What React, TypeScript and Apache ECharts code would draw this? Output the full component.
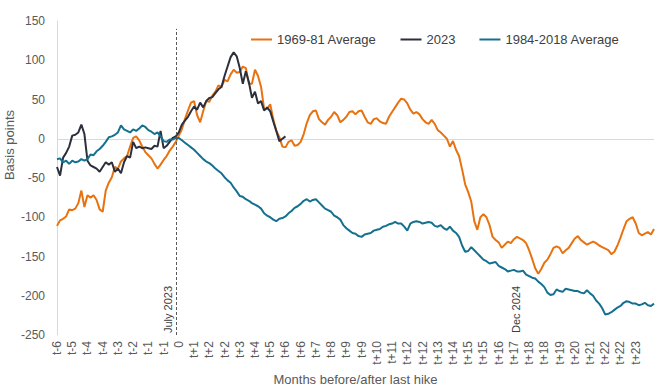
import React, { useEffect, useRef } from "react";
import * as echarts from "echarts";

// Basis points, one value per trading-day step (category index)
const avg1969to81 = [
  -111, -104, -102, -99, -90, -91, -89, -82, -66, -87,
  -72, -75, -72, -78, -90, -93, -66, -56, -49, -36,
  -38, -29, -25, -22, -10, 1, 3, -2, -10, -17,
  -21, -25, -32, -38, -33, -27, -22, -15, -10, -4,
  4, 12, 25, 36, 46, 48, 30, 21, 35, 48,
  47, 55, 60, 68, 66, 75, 73, 82, 88, 84,
  85, 92, 90, 70, 70, 88, 80, 66, 38, 38,
  44, 25, 10, 2, -10, -11, -4, -2, -9, -8,
  -4, 6, 20, 30, 35, 36, 25, 21, 18, 24,
  28, 34, 30, 21, 24, 28, 34, 35, 31, 35,
  36, 28, 21, 19, 25, 26, 22, 20, 19, 28,
  34, 40, 46, 51, 50, 45, 37, 32, 34, 31,
  25, 21, 19, 24, 19, 11, 8, 4, 0, -10,
  -3, -14, -22, -39, -58, -68, -80, -105, -116, -100,
  -96, -100, -110, -125, -129, -132, -139, -135, -131, -133,
  -128, -125, -127, -129, -133, -142, -153, -165, -172, -166,
  -158, -154, -147, -139, -137, -139, -146, -142, -139, -133,
  -127, -124, -129, -132, -135, -133, -131, -133, -136, -138,
  -140, -142, -147, -144, -136, -126, -115, -105, -102, -100,
  -108, -120, -123, -121, -119, -122, -115,
];

const y2023 = [
  -36, -47, -24, -18, -10, 4, 5, 8, 18, 6,
  -28, -34, -36, -38, -42, -36, -30, -33, -30, -42,
  -38, -44, -30, -22, -24, -4, -12, -10, -12, -11,
  -12, -13, -9, -10, 10, -12, -9, -4, 1, 3,
  8, 18, 23, 28, 35, 41, 37, 46, 40, 48,
  52, 53, 58, 63, 66, 80, 92, 104, 110, 105,
  90, 70, 86, 72, 52, 60, 45, 48, 36, 40,
  35, 22, 10, -3, 0, 3,
];

const avg1984to2018 = [
  -26, -25, -30, -28, -32, -28, -30, -29, -26, -28,
  -26, -20, -21, -16, -13, -9, -4, 2, 3, 5,
  8, 17, 12, 10, 8, 12, 10, 13, 17, 15,
  11, 9, 6, 8, 3, -3, -4, -1, -1, 1,
  1, -2, -5, -8, -11, -14, -18, -22, -26, -29,
  -31, -34, -38, -41, -44, -49, -53, -56, -62, -67,
  -73, -74, -77, -79, -82, -84, -86, -89, -95, -98,
  -100, -103, -105, -102, -101, -99, -95, -92, -88, -86,
  -83, -79, -77, -80, -78, -77, -81, -85, -89, -91,
  -93, -98, -100, -103, -110, -114, -117, -120, -121, -124,
  -125, -122, -121, -120, -117, -116, -115, -112, -111, -109,
  -108, -106, -108, -108, -112, -117, -108, -106, -105, -106,
  -108, -107, -106, -107, -111, -112, -110, -114, -116, -112,
  -117, -120, -125, -136, -144, -143, -138, -142, -146, -150,
  -154, -156, -159, -158, -157, -162, -164, -166, -169, -168,
  -167, -169, -169, -168, -173, -175, -177, -178, -182, -185,
  -189, -196, -199, -198, -192, -194, -195, -191, -192, -193,
  -194, -194, -196, -197, -193, -197, -200, -206, -210, -216,
  -224, -223, -221, -218, -215, -213, -209, -207, -208, -210,
  -210, -212, -211, -209, -212, -213, -210,
];

// Tick labels shown every 5th category
const tickLabels = [
  "t-6", "t-5", "t-4", "t-4", "t-3", "t-2", "t-1", "t-1", "0", "t+1",
  "t+2", "t+2", "t+3", "t+4", "t+5", "t+6", "t+6", "t+7", "t+8", "t+9",
  "t+9", "t+10", "t+11", "t+12", "t+12", "t+13", "t+14", "t+15", "t+15", "t+16",
  "t+17", "t+18", "t+18", "t+19", "t+20", "t+21", "t+22", "t+22", "t+23",
];
const LABEL_STEP = 5;

const seriesNames = ["1969-81 Average", "2023", "1984-2018 Average"];
const seriesColors = ["#E8720F", "#2C2F3C", "#14708F"];

const hikeIndex = 39; // July 2023
const decIndex = 153; // Dec 2024

const categories = avg1969to81.map((_, i) => String(i));

const FONT = "'Liberation Sans', Arial, Helvetica, sans-serif";

export default function App() {
  const ref = useRef<HTMLDivElement>(null);

  useEffect(() => {
    if (!ref.current) return;
    const chart = echarts.init(ref.current, undefined, { renderer: "svg" });
    const splitColors = [-250, -200, -150, -100, -50, 0, 50, 100, 150].map((v) =>
      v === 0 ? "#d9d9d9" : "rgba(0,0,0,0)"
    );
    chart.setOption({
      animation: false,
      textStyle: { fontFamily: FONT },
      grid: { left: 57, right: 6, top: 21, bottom: 54, containLabel: false },
      legend: {
        data: seriesNames,
        left: 246,
        top: 28,
        icon: "rect",
        itemWidth: 21,
        itemHeight: 2,
        itemGap: 24,
        textStyle: { fontSize: 13, color: "#404040", fontFamily: FONT },
      },
      xAxis: {
        type: "category",
        data: categories,
        boundaryGap: false,
        axisLine: { show: false },
        axisTick: { show: false },
        splitLine: { show: false },
        axisLabel: {
          rotate: 90,
          fontSize: 12,
          color: "#595959",
          margin: 6,
          fontFamily: FONT,
          interval: (i: number) => i % LABEL_STEP === 0 && i / LABEL_STEP < tickLabels.length,
          formatter: (_v: string, i: number) => tickLabels[Math.round(i / LABEL_STEP)] ?? "",
        },
        name: "Months before/after last hike",
        nameLocation: "middle",
        nameGap: 38,
        nameTextStyle: { fontSize: 13, color: "#595959", fontFamily: FONT },
      },
      yAxis: {
        type: "value",
        min: -250,
        max: 150,
        interval: 50,
        axisLine: { show: true, lineStyle: { color: "#d9d9d9", width: 1 } },
        axisTick: { show: false },
        axisLabel: { fontSize: 12, color: "#595959", margin: 12, fontFamily: FONT },
        splitLine: { show: true, lineStyle: { color: splitColors, width: 1 } },
      },
      graphic: [
        {
          type: "text",
          x: 9,
          y: 145,
          rotation: Math.PI / 2,
          style: {
            text: "Basis points",
            fontSize: 13,
            fill: "#595959",
            fontFamily: FONT,
            textAlign: "center",
            textVerticalAlign: "middle",
          },
        },
      ],
      series: [
        {
          name: seriesNames[0],
          type: "line",
          data: avg1969to81,
          showSymbol: false,
          symbol: "none",
          lineStyle: { width: 2, color: seriesColors[0] },
          itemStyle: { color: seriesColors[0] },
        },
        {
          name: seriesNames[1],
          type: "line",
          data: y2023,
          showSymbol: false,
          symbol: "none",
          lineStyle: { width: 2, color: seriesColors[1] },
          itemStyle: { color: seriesColors[1] },
          markLine: {
            silent: true,
            symbol: ["none", "none"],
            animation: false,
            lineStyle: { color: "#595959", type: [3, 2], width: 1 },
            label: {
              show: true,
              position: "insideStartTop",
              fontSize: 11,
              color: "#404040",
              fontFamily: FONT,
              distance: 2,
            },
            data: [
              [
                { coord: [hikeIndex, -250], label: { formatter: "July 2023" } },
                { coord: [hikeIndex, 140] },
              ],
              [
                {
                  coord: [decIndex, -250],
                  label: { formatter: "Dec 2024", color: "#404040" },
                  lineStyle: { color: "rgba(0,0,0,0)", width: 1 },
                },
                { coord: [decIndex, -180] },
              ],
            ],
          },
        },
        {
          name: seriesNames[2],
          type: "line",
          data: avg1984to2018,
          showSymbol: false,
          symbol: "none",
          lineStyle: { width: 2, color: seriesColors[2] },
          itemStyle: { color: seriesColors[2] },
        },
      ],
    });
    return () => chart.dispose();
  }, []);

  return (
    <div
      ref={ref}
      style={{ position: "absolute", left: 0, top: 0, width: 660, height: 391, background: "#fff" }}
    />
  );
}
